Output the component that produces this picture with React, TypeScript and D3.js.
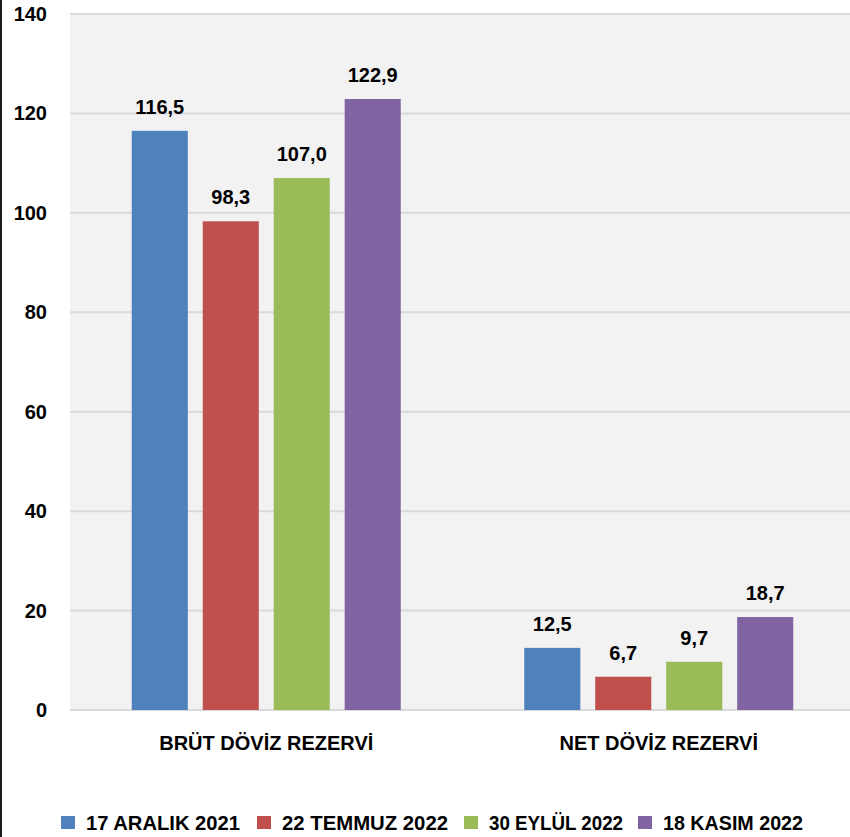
import React from "react";
import * as d3 from "d3";

const categories = ["BRÜT DÖVİZ REZERVİ", "NET DÖVİZ REZERVİ"];
const seriesNames = ["17 ARALIK 2021", "22 TEMMUZ 2022", "30 EYLÜL 2022", "18 KASIM 2022"];
const seriesColors = ["#4f81bd", "#c0504d", "#9bbb59", "#8064a2"];
const brutValues = [116.5, 98.3, 107.0, 122.9];
const netValues = [12.5, 6.7, 9.7, 18.7];
const yTicks = [0, 20, 40, 60, 80, 100, 120, 140];

const W = 850;
const H = 837;
const FONT = "'Liberation Sans', Arial, sans-serif";

export default function App() {
  const values = [brutValues, netValues];
  const plotLeft = 70;
  const plotRight = 855;
  const plotTop = 14;
  const plotBottom = 710;

  const x0 = d3.scaleBand<string>().domain(categories).range([plotLeft, plotRight]).paddingInner(0).paddingOuter(0);
  const groupWidth = 269;
  const x1 = d3
    .scaleBand<string>()
    .domain(seriesNames)
    .range([0, groupWidth])
    .paddingInner(0.21)
    .paddingOuter(0);
  const y = d3.scaleLinear().domain([0, 140]).range([plotBottom, plotTop]);

  const legendX = [61, 257, 464, 638];
  const legendTextW = [154, 166, 134, 140];
  const fmt = (v: number) => v.toFixed(1).replace(".", ",");

  return (
    <svg
      width={W}
      height={H}
      style={{ position: "absolute", left: 0, top: 0, background: "#fff" }}
      fontFamily={FONT}
    >
      <rect x={plotLeft} y={plotTop} width={plotRight - plotLeft} height={plotBottom - plotTop} fill="#f2f2f2" />
      {yTicks.map((t) => (
        <g key={t}>
          <line x1={plotLeft} x2={plotRight} y1={y(t)} y2={y(t)} stroke="#d9d9d9" strokeWidth={2} />
          <text
            x={47}
            y={y(t)}
            textAnchor="end"
            dominantBaseline="central"
            fontSize={20}
            fontWeight="bold"
            fill="#000"
          >
            {t}
          </text>
        </g>
      ))}
      {categories.map((c, ci) => {
        const gx = (x0(c) as number) + (x0.bandwidth() - groupWidth) / 2;
        return (
          <g key={c}>
            {seriesNames.map((s, si) => {
              const v = values[ci][si];
              const bx = gx + (x1(s) as number);
              return (
                <g key={s}>
                  <rect x={bx} y={y(v)} width={x1.bandwidth()} height={y(0) - y(v)} fill={seriesColors[si]} />
                  <text
                    x={bx + x1.bandwidth() / 2}
                    y={y(v) - 17}
                    textAnchor="middle"
                    fontSize={20}
                    fontWeight="bold"
                    fill="#000"
                  >
                    {fmt(v)}
                  </text>
                </g>
              );
            })}
            <text
              x={(x0(c) as number) + x0.bandwidth() / 2}
              y={750}
              textAnchor="middle"
              fontSize={20}
              fontWeight="bold"
              fill="#000"
            >
              {c}
            </text>
          </g>
        );
      })}
      <rect x={0} y={0} width={2} height={H} fill="#1a1a1a" />
      {seriesNames.map((s, si) => (
        <g key={s} transform={`translate(${legendX[si]},0)`}>
          <rect x={0} y={816} width={14} height={13} fill={seriesColors[si]} />
          <text
            x={25}
            y={830}
            fontSize={21}
            fontWeight="bold"
            fill="#000"
            textLength={legendTextW[si]}
            lengthAdjust="spacingAndGlyphs"
          >
            {s}
          </text>
        </g>
      ))}
    </svg>
  );
}
